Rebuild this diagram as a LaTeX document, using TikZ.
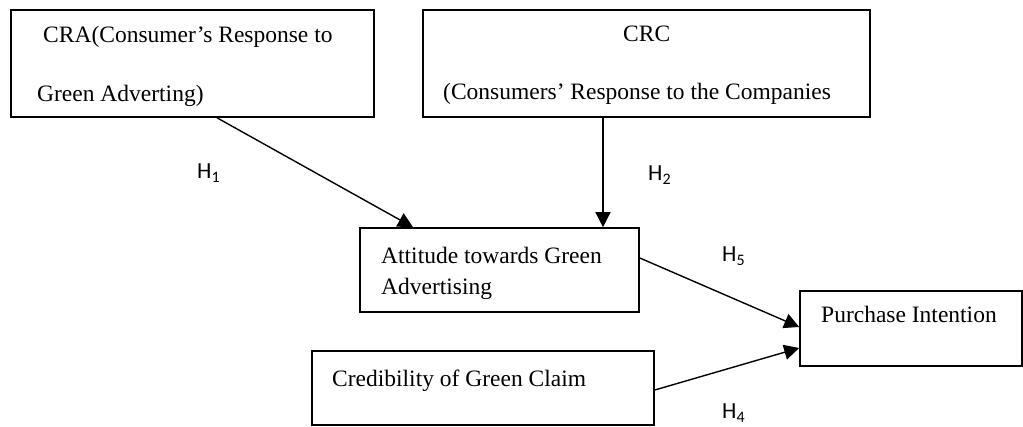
\documentclass[tikz,border=0pt]{standalone}
\usepackage{fontspec}
\setmainfont{Liberation Serif}
\newfontfamily\labfont{Carlito}
\usetikzlibrary{arrows.meta}
\begin{document}
\begin{tikzpicture}[x=1pt,y=-1pt,
  box/.style={draw,line width=1.6pt,inner sep=0pt,rectangle},
  txt/.style={anchor=base west,inner sep=0pt,font=\fontsize{23.5}{28}\selectfont},
  hyp/.style={anchor=base west,inner sep=0pt,font=\labfont\fontsize{23}{26}\selectfont},
  conn/.style={line width=1.4pt,-{Triangle[length=15pt,width=15pt]}}]
\useasboundingbox (0,0) rectangle (1023,427);
% boxes
\node[box,minimum width=363pt,minimum height=107pt] (cra) at (192.5,63.5) {};
\node[box,minimum width=447pt,minimum height=107pt] (crc) at (646.5,63.5) {};
\node[box,minimum width=279pt,minimum height=84pt] (att) at (499.5,270) {};
\node[box,minimum width=222pt,minimum height=75pt] (pi) at (911,328.5) {};
\node[box,minimum width=342pt,minimum height=74pt] (cred) at (483,388) {};
% texts
\node[txt] (cra1) at (43,43) {CRA(Consumer’s Response to};
\node[txt] (cra2) at (37,102) {Green Adverting)};
\node[txt] (crc1) at (623,42) {CRC};
\node[txt] (crc2) at (443,100) {(Consumers’ Response to the Companies};
\node[txt] (att1) at (381,264) {Attitude towards Green};
\node[txt] (att2) at (381,295) {Advertising};
\node[txt] (pi1) at (821,323) {Purchase Intention};
\node[txt] (cred1) at (332,387) {Credibility of Green Claim};
% hypothesis labels
\newcommand{\hsub}[1]{H\raisebox{-4pt}{\fontsize{16}{16}\selectfont #1}}
\node[hyp] (h1) at (197,179) {\hsub{1}};
\node[hyp] (h2) at (648,181) {\hsub{2}};
\node[hyp] (h5) at (722,262) {\hsub{5}};
\node[hyp] (h4) at (722,419) {\hsub{4}};
% connectors
\draw[conn] ([xshift=24.5pt]cra.south) -- ([xshift=-86.5pt]att.north);
\draw[conn] ([xshift=-43.5pt]crc.south) -- ([xshift=103.5pt]att.north);
\draw[conn] ([yshift=12pt]att.east) -- ([yshift=1.5pt]pi.west);
\draw[conn] ([yshift=-2pt]cred.east) -- ([yshift=-19.5pt]pi.west);
\end{tikzpicture}
\end{document}
